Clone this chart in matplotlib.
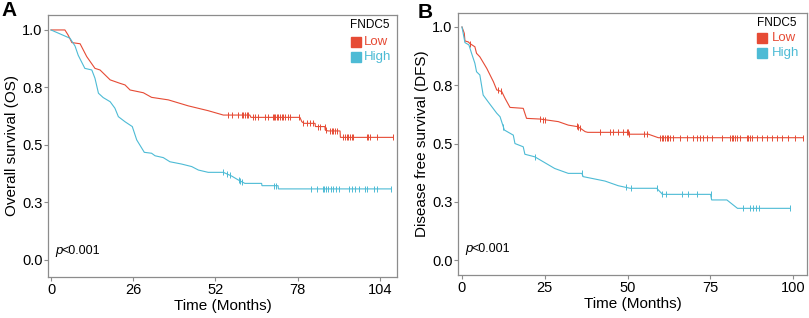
import numpy as np
import matplotlib
matplotlib.use("Agg")
import matplotlib.pyplot as plt

plt.rcParams['font.family'] = ['Liberation Sans', 'DejaVu Sans']

RED = '#E64B35'
BLUE = '#4DBBD5'

# ---- Panel A: Overall survival ----
a_low_t = [0, 4.4, 5.4, 6.6, 9.2, 11.3, 13.9, 15.5, 18.7, 21.8, 23.4, 25, 29.2, 31.8, 37.1, 43.4,
           49.7, 54.5, 62.9, 63.2, 78.7, 79.3, 80, 83.5, 83.6, 86.6, 86.7, 87.6, 91.4, 91.5, 108]
a_low_s = [1, 1, 0.978, 0.945, 0.94, 0.884, 0.833, 0.826, 0.783, 0.768, 0.761, 0.739, 0.727, 0.707,
           0.696, 0.67, 0.649, 0.63, 0.63, 0.62, 0.62, 0.601, 0.594, 0.594, 0.58, 0.58, 0.565, 0.561,
           0.561, 0.533, 0.533]
a_low_cens = [56, 57.1, 59.2, 60.3, 60.8, 61.3, 61.9, 62.4, 64, 64.5, 65.5, 67.7, 68.7, 70.1, 70.5,
              70.9, 71.4, 71.9, 72.4, 72.9, 73.4, 74, 75, 75.6, 78.5, 79.8, 80.8, 81.9, 82.9, 84.4,
              85, 86.6, 87, 88.2, 88.8, 89.3, 89.8, 90.3, 92.4, 92.9, 93.5, 94, 94.5, 95.1, 95.6,
              99.8, 100.3, 100.9, 103, 108]

a_high_t = [0, 6, 7.6, 8.6, 10.7, 12.9, 13.9, 15, 16.5, 18.7, 20.2, 21.3, 23.4, 25.7, 27.1, 29.5,
            31.8, 32.9, 35.5, 37.6, 41.3, 44.5, 46.6, 49.7, 54.5, 57.1, 59.2, 61.3, 66.6, 66.7,
            71.8, 71.9, 107.4]
a_high_s = [1, 0.964, 0.93, 0.89, 0.833, 0.826, 0.79, 0.725, 0.706, 0.688, 0.66, 0.623, 0.601, 0.58,
            0.522, 0.468, 0.464, 0.453, 0.445, 0.427, 0.417, 0.406, 0.391, 0.381, 0.381, 0.365,
            0.348, 0.333, 0.333, 0.323, 0.323, 0.309, 0.309]
a_high_cens = [54.4, 55.7, 56.6, 59.3, 59.9, 60.5, 70.5, 71.1, 82.2, 84, 85.9, 86.3, 87.1, 87.7,
               88.5, 89.2, 90.1, 91.1, 94.2, 95.1, 96.1, 97.5, 99.3, 99.8, 102.1, 103.2, 107.4]

# ---- Panel B: Disease free survival ----
b_low_t = [0, 0.7, 0.9, 1.9, 2.4, 3.9, 4.4, 5.4, 7.5, 9.5, 10.5, 12, 13, 14.5, 18.5, 19.5, 23.6,
           25.6, 29.1, 32.1, 35.1, 37.2, 38, 50.2, 50.4, 56.3, 59.3, 103.1]
b_low_s = [1, 0.973, 0.94, 0.936, 0.929, 0.915, 0.887, 0.872, 0.822, 0.765, 0.73, 0.723, 0.694,
           0.655, 0.651, 0.608, 0.605, 0.601, 0.594, 0.579, 0.572, 0.551, 0.548, 0.548, 0.54, 0.54,
           0.525, 0.525]
b_low_cens = [2.5, 11, 11.8, 23.6, 24.6, 25.1, 34.6, 35.1, 35.6, 41.7, 44.7, 45.7, 47.2, 48.5,
              49.7, 50, 50.5, 54.9, 55.9, 59.8, 60.3, 60.8, 61.3, 61.8, 62.3, 62.8, 63.8, 65.9,
              67.9, 69.9, 70.9, 71.9, 72.9, 73.9, 75.4, 78.5, 81, 81.5, 82, 82.5, 83, 84, 86,
              86.5, 87, 87.5, 89, 90.5, 92.1, 93.6, 95.1, 96.6, 98.6, 100.6, 102.9]

b_high_t = [0, 0.9, 2.1, 2.9, 3.9, 4.4, 5.4, 6.4, 7.9, 10.5, 11.5, 12.8, 15.5, 16, 18.5, 19, 22,
            25, 28, 32.1, 36.2, 36.6, 43.2, 47.2, 50.8, 58.8, 60.3, 60.5, 75.1, 75.4, 80, 83.2,
            99.1]
b_high_s = [1, 0.933, 0.923, 0.887, 0.844, 0.808, 0.794, 0.708, 0.679, 0.63, 0.615, 0.558, 0.536,
            0.5, 0.486, 0.454, 0.443, 0.418, 0.393, 0.372, 0.372, 0.358, 0.339, 0.319, 0.308,
            0.308, 0.286, 0.282, 0.282, 0.258, 0.258, 0.222, 0.222]
b_high_cens = [12.5, 22, 36.2, 49.5, 51, 58.8, 60.5, 61.5, 66.4, 68.4, 71.1, 75.1, 84.8, 87,
               87.8, 88.8, 89.8, 99.1]

a_xticks = [0, 26, 52, 78, 104]
b_xticks = [0, 25, 50, 75, 100]
y_ticks = [0, 0.25, 0.5, 0.75, 1.0]
y_ticklabels = ['0.0', '0.3', '0.5', '0.8', '1.0']
legend_title = 'FNDC5'
group_labels = ['Low', 'High']
p_label = 'p'
p_value = '<0.001'

W, H = 809, 318
fig = plt.figure(figsize=(W / 100, H / 100), dpi=100)


def px_axes(l, t, r, b):
    return fig.add_axes([l / W, 1 - b / H, (r - l) / W, (b - t) / H])


NARROW = ['Liberation Sans Narrow', 'DejaVu Sans Condensed', 'Liberation Sans']


def draw_panel(ax, curves, xticks, xlim, ylim, ylabel, leg):
    for t, s, cens, col in curves:
        ax.plot(t, s, color=col, lw=0.8, solid_joinstyle='miter')
        cy = np.interp(cens, t, s)
        ax.plot(cens, cy, ls='none', marker='|', ms=4, mew=0.7, color=col)
    ax.set_xlim(*xlim)
    ax.set_ylim(*ylim)
    ax.set_xticks(xticks)
    ax.set_xticklabels([str(v) for v in xticks])
    ax.set_yticks(y_ticks)
    ax.set_yticklabels(y_ticklabels)
    for sp in ax.spines.values():
        sp.set_color('#8c8c8c')
        sp.set_linewidth(0.9)
    ax.tick_params(axis='both', colors='#8c8c8c', labelcolor='black', labelsize=10.5,
                   length=3, width=0.8, pad=1)
    ax.set_xlabel('Time (Months)', fontsize=11, labelpad=1.5)
    ax.set_ylabel(ylabel, fontsize=11, labelpad=2)
    ax.text(0.022, 0.1, p_label, transform=ax.transAxes, fontsize=9.5, fontstyle='italic',
            va='center', ha='left', family=NARROW)
    ax.text(0.039, 0.1, p_value, transform=ax.transAxes, fontsize=9,
            va='center', ha='left', family=NARROW)
    tx, ty, sx, tx2, ys = leg
    ax.text(tx, ty, legend_title, transform=ax.transAxes, fontsize=8.5, va='center', ha='left')
    for lab, col, y in zip(group_labels, [RED, BLUE], ys):
        ax.plot([sx], [y], marker='s', ms=7, color=col, transform=ax.transAxes, clip_on=False)
        ax.text(tx2, y, lab, transform=ax.transAxes, fontsize=9.5, color=col,
                va='center', ha='left')


axA = px_axes(48, 15, 397, 277)
draw_panel(axA, [(a_low_t, a_low_s, a_low_cens, RED), (a_high_t, a_high_s, a_high_cens, BLUE)],
           a_xticks, (-0.95, 109.4), (-0.074, 1.065), 'Overall survival (OS)',
           (0.866, 0.962, 0.883, 0.905, [0.897, 0.840]))

axB = px_axes(458, 13, 807, 275)
draw_panel(axB, [(b_low_t, b_low_s, b_low_cens, RED), (b_high_t, b_high_s, b_high_cens, BLUE)],
           b_xticks, (-1.2, 104.2), (-0.064, 1.06), 'Disease free survival (DFS)',
           (0.857, 0.962, 0.872, 0.900, [0.905, 0.849]))

fig.text(1 / W, 1 - 11 / H, 'A', fontsize=15, fontweight='bold', va='center', ha='left')
fig.text(418 / W, 1 - 12 / H, 'B', fontsize=15, fontweight='bold', va='center', ha='left')

fig.savefig('out.png', dpi=100)
